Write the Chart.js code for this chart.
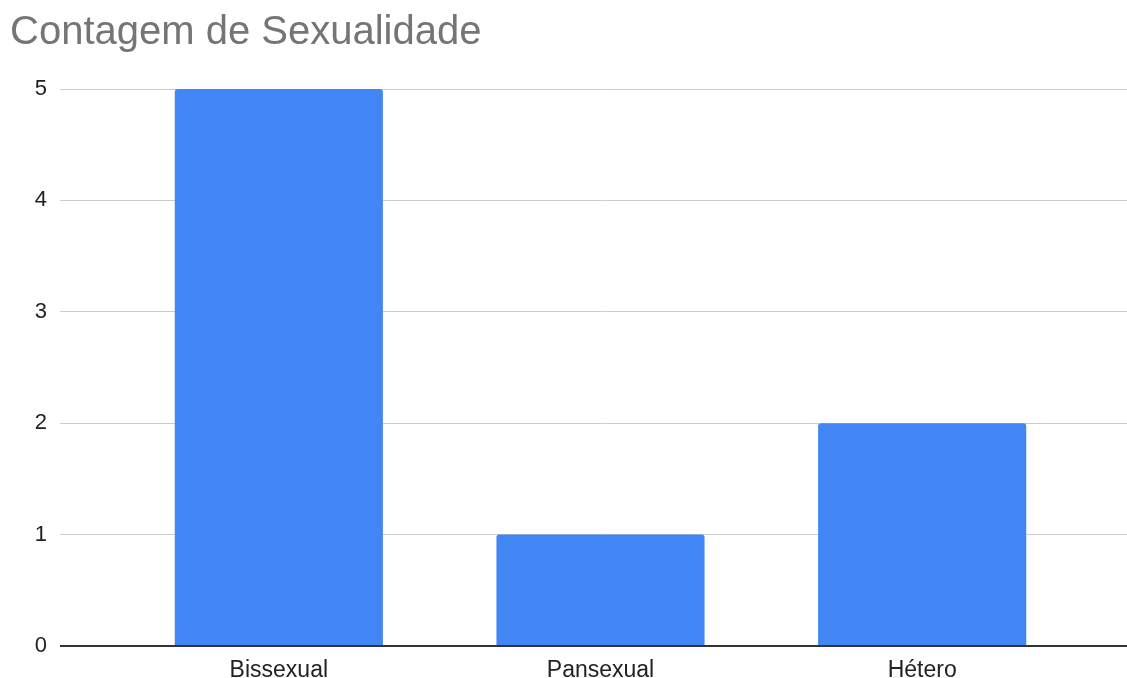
<!DOCTYPE html>
<html>
<head>
<meta charset="utf-8">
<script src="https://cdn.jsdelivr.net/npm/chart.js@4/dist/chart.umd.min.js"></script>
<style>
  html, body { margin: 0; padding: 0; background: #ffffff; }
  #wrap { width: 1127px; height: 678px; }
</style>
</head>
<body>
<div id="wrap"><canvas id="c" width="1127" height="678"></canvas></div>
<script>
const chartTitle = "Contagem de Sexualidade";
const categories = ["Bissexual", "Pansexual", "Hétero"];
const counts = [5, 1, 2];
const yTicks = [0, 1, 2, 3, 4, 5];

const FONT = "'Liberation Sans', Arial, sans-serif";

new Chart(document.getElementById('c'), {
  type: 'bar',
  data: {
    labels: categories,
    datasets: [{
      data: counts,
      backgroundColor: '#4285f4',
      borderWidth: 0,
      borderRadius: { topLeft: 3, topRight: 3, bottomLeft: 0, bottomRight: 0 },
      borderSkipped: 'start',
      categoryPercentage: 1,
      barPercentage: 0.647
    }]
  },
  options: {
    responsive: false,
    animation: false,
    devicePixelRatio: 1,
    layout: { padding: { left: 10, right: 0, top: 0, bottom: 0 } },
    plugins: {
      legend: { display: false },
      tooltip: { enabled: false },
      title: {
        display: true,
        text: chartTitle,
        align: 'start',
        color: '#757575',
        font: { family: FONT, size: 40, weight: 'normal', lineHeight: 1.2 },
        padding: { top: 9, bottom: 32 }
      }
    },
    scales: {
      x: {
        type: 'category',
        offset: true,
        grid: { display: false, drawTicks: false },
        border: { display: false },
        ticks: {
          color: '#222222',
          font: { family: FONT, size: 23, lineHeight: 0.9 },
          padding: 14,
          maxRotation: 0
        },
        afterFit: (s) => { s.height = 32; }
      },
      y: {
        position: 'left',
        min: yTicks[0],
        max: yTicks[yTicks.length - 1],
        afterBuildTicks: (s) => { s.ticks = yTicks.map(v => ({ value: v })); },
        grid: {
          drawTicks: true,
          tickLength: 58,
          color: (ctx) => ctx.tick && ctx.tick.value === 0 ? '#333333' : '#cccccc',
          lineWidth: (ctx) => ctx.tick && ctx.tick.value === 0 ? 2 : 1
        },
        border: { display: false },
        ticks: {
          color: '#222222',
          font: { family: FONT, size: 22 },
          padding: 13
        },
        afterFit: (s) => { s.width = 108; }
      },
      y2: {
        position: 'right',
        min: yTicks[0],
        max: yTicks[yTicks.length - 1],
        afterBuildTicks: (s) => { s.ticks = yTicks.map(v => ({ value: v })); },
        grid: {
          drawOnChartArea: false,
          drawTicks: true,
          tickLength: 44,
          color: (ctx) => ctx.tick && ctx.tick.value === 0 ? '#333333' : '#cccccc',
          lineWidth: (ctx) => ctx.tick && ctx.tick.value === 0 ? 2 : 1
        },
        border: { display: false },
        ticks: { display: false },
        afterFit: (s) => { s.width = 44; }
      }
    }
  }
});
</script>
</body>
</html>
